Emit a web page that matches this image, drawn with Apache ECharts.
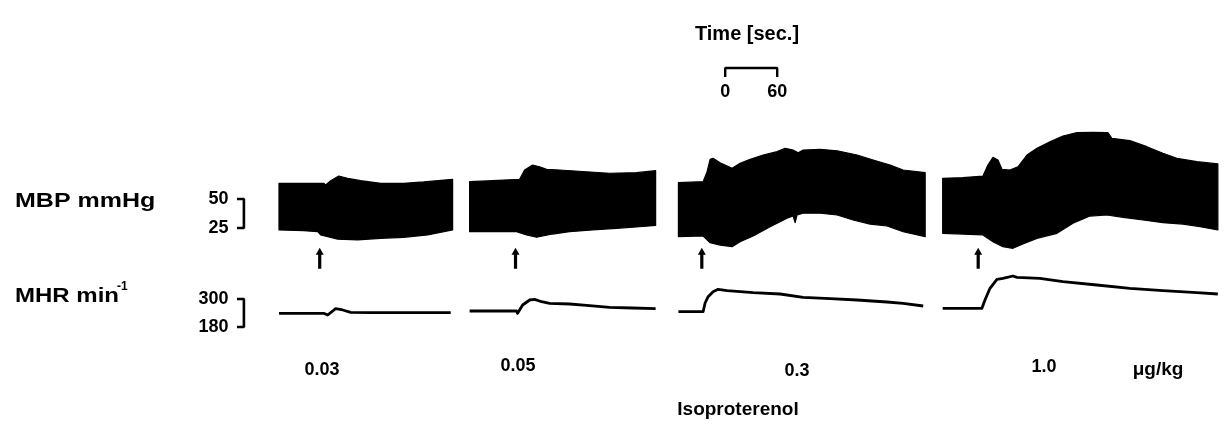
<!DOCTYPE html>
<html>
<head>
<meta charset="utf-8">
<script src="https://cdn.jsdelivr.net/npm/echarts@6/dist/echarts.min.js"></script>
<style>
  html, body { margin: 0; padding: 0; background: #fff; }
  #chart { width: 1226px; height: 437px; }
</style>
</head>
<body>
<div id="chart"></div>
<script>
// Isoproterenol doses (µg/kg), one per recorded trace
const doses = ['0.03', '0.05', '0.3', '1.0'];

// Mean blood pressure band: upper and lower envelope, [s from trace start, mmHg]
const mbpUpper1 = [[0, 63.5], [51.6, 63.5], [53.9, 62.1], [59.7, 65.8], [68.9, 69.8], [79.3, 67.8], [94.3, 65.8], [117.4, 63.5], [143.9, 63.5], [167, 64.7], [200.4, 67.0]];
const mbpLower1 = [[0, 23.3], [28.5, 22.7], [44.7, 21.8], [48.1, 19.0], [67.7, 15.3], [90.8, 14.7], [117.4, 16.1], [143.9, 17.0], [171.6, 19.0], [200.4, 23.3]];
const mbpUpper2 = [[0, 64.9], [26.5, 65.8], [57.7, 67.0], [63.5, 75.0], [72.7, 79.3], [80.8, 77.8], [88.9, 75.6], [103.9, 75.0], [135, 73.5], [161.6, 72.2], [192.7, 72.7], [214.7, 74.4]];
const mbpLower2 = [[0, 21.8], [54.2, 21.8], [65.8, 19.0], [77.3, 17.0], [95.8, 19.8], [115.4, 21.8], [142, 23.3], [169.7, 24.7], [196.2, 26.1], [214.7, 27.2]];
const mbpUpper3 = [[0, 64.1], [28.5, 64.9], [33.1, 73.5], [36.6, 84.2], [40, 85.1], [48.1, 81.3], [62, 76.5], [71.2, 80.8], [82.8, 84.2], [97.8, 87.9], [113.9, 90.8], [123.2, 93.7], [132.4, 92.2], [138.2, 89.9], [144, 92.2], [163.6, 92.8], [183.2, 91.6], [206.3, 87.9], [224.8, 83.6], [244.4, 79.3], [259.4, 75.0], [284.8, 72.7]];
const mbpLower3 = [[0, 17.5], [28.5, 18.1], [36.6, 12.3], [48.1, 10.3], [62, 8.9], [71.2, 13.2], [86.3, 18.1], [105.8, 26.1], [125.4, 33.4], [132.4, 35.3], [134.7, 29.6], [136.9, 36.2], [144, 37.7], [163.6, 37.7], [183.2, 36.2], [201.6, 31.9], [221.2, 28.4], [240.8, 26.7], [259.4, 21.8], [284.8, 17.5]];
const mbpUpper4 = [[0, 67.8], [23.4, 68.4], [46.5, 69.8], [52.2, 79.3], [58, 85.9], [63.8, 83.6], [68.4, 75.6], [77.6, 75.0], [86.9, 77.8], [97.3, 87.9], [108.8, 93.7], [123.8, 99.4], [138.8, 104.3], [155, 107.2], [173.4, 107.5], [190.7, 107.2], [195.3, 102.3], [216.1, 100.3], [235.7, 95.1], [254.2, 89.4], [270.3, 85.1], [293.4, 82.2], [317.6, 80.2]];
const mbpLower4 = [[0, 20.4], [23.4, 19.8], [46.5, 19.0], [58, 13.2], [69.5, 8.9], [81.1, 7.5], [92.6, 11.2], [108.8, 16.1], [131.9, 20.4], [150.4, 29.1], [170, 35.3], [189.6, 36.2], [208.1, 34.2], [231.2, 31.9], [254.2, 29.6], [277.3, 28.4], [297, 26.1], [317.6, 23.3]];

// Mean heart rate, [s from trace start, beats/min]
const mhr1 = [[0, 238.7], [51.6, 238.7], [56.2, 231.4], [65.4, 258.4], [73.5, 252.9], [82.8, 243.0], [105.8, 241.3], [198.2, 241.3]];
const mhr2 = [[0, 248.6], [54.2, 248.6], [55.4, 238.7], [61.2, 274.3], [69.3, 295.7], [75, 298.7], [83.1, 288.4], [92.3, 281.6], [115.4, 278.6], [135, 273.0], [161.6, 264.4], [188.1, 261.4], [214.7, 258.4]];
const mhr3 = [[0, 245.6], [28.5, 245.6], [30.8, 282.9], [34.3, 309.9], [40, 331.3], [45.8, 341.6], [56.2, 335.6], [86.3, 327.0], [117.4, 321.4], [144, 307.3], [175.1, 301.3], [206.3, 295.7], [240.8, 287.1], [259.4, 281.6], [282.5, 270.0]];
const mhr4 = [[0, 260.1], [45.3, 260.1], [48.8, 295.7], [54.6, 345.9], [62.6, 384.4], [69.5, 388.7], [81.1, 398.6], [85.7, 393.0], [112.2, 388.7], [138.8, 374.1], [178, 360.0], [216.1, 345.9], [254.2, 335.6], [293.4, 327.0], [317.6, 321.4]];

// Injection time within each trace (s)
const injectionTimes = [47, 53, 27, 41];

// Calibration bar tick labels
const mbpScaleTicks = [50, 25];
const mhrScaleTicks = [300, 180];
const timeScaleTicks = [0, 60];

// ---- layout ----
const traceStart = [0, 220, 461, 766];   // where each trace sits on the shared time axis (s)
const timeBarStart = 515;                 // left end of the time calibration bar (s)
const bracketX = [-48.5, -40.5];          // calibration bracket tick ends (s)
const arrowLevel = -1;                    // vertical placement of injection arrows (mmHg units)
const FONT = '"Liberation Sans", Arial, sans-serif';

const mbpUpper = [mbpUpper1, mbpUpper2, mbpUpper3, mbpUpper4];
const mbpLower = [mbpLower1, mbpLower2, mbpLower3, mbpLower4];
const mhr = [mhr1, mhr2, mhr3, mhr4];

const xAxisBase = { type: 'value', min: -322, max: 1093, show: false };

const chart = echarts.init(document.getElementById('chart'), null, { renderer: 'canvas' });

const series = [];

// Blood pressure band per trace, filled between the two envelopes
series.push({
  type: 'custom',
  name: 'MBP',
  xAxisIndex: 0,
  yAxisIndex: 0,
  clip: false,
  data: traceStart.map((s, i) => [s, i]),
  renderItem(params, api) {
    const i = params.dataIndex;
    const s = traceStart[i];
    const top = mbpUpper[i].map(([t, v]) => api.coord([s + t, v]));
    const bottom = mbpLower[i].slice().reverse().map(([t, v]) => api.coord([s + t, v]));
    return {
      type: 'polygon',
      shape: { points: top.concat(bottom) },
      style: { fill: '#000', stroke: '#000', lineWidth: 1.2, lineJoin: 'round' }
    };
  }
});

// Heart rate traces
mhr.forEach((d, i) => {
  series.push({
    type: 'line',
    name: 'MHR ' + doses[i],
    xAxisIndex: 1,
    yAxisIndex: 1,
    data: d.map(([t, v]) => [traceStart[i] + t, v]),
    showSymbol: false,
    silent: true,
    lineStyle: { color: '#000', width: 2.8, join: 'round' },
    clip: false
  });
});

// Injection arrows
series.push({
  type: 'scatter',
  xAxisIndex: 0,
  yAxisIndex: 0,
  data: injectionTimes.map((t, i) => [traceStart[i] + t, arrowLevel]),
  symbol: 'path://M4,0 L8,7 L5.6,7 L5.6,21 L2.4,21 L2.4,7 L0,7 Z',
  symbolSize: [8, 21],
  itemStyle: { color: '#000', opacity: 1 },
  silent: true,
  clip: false
});

// Calibration brackets: the bracket outline plus its two tick labels
const labelStyle = { color: '#000', fontFamily: FONT, fontWeight: 'bold', opacity: 1 };
function bracket(ticks, xAxisIndex, yAxisIndex) {
  return [{
    type: 'line',
    xAxisIndex, yAxisIndex,
    symbol: 'none',
    silent: true,
    clip: false,
    lineStyle: { color: '#000', width: 2.6 },
    data: [[bracketX[0], ticks[0]], [bracketX[1], ticks[0]], [bracketX[1], ticks[1]], [bracketX[0], ticks[1]]]
  }, {
    type: 'scatter',
    xAxisIndex, yAxisIndex,
    silent: true,
    clip: false,
    symbolSize: 1,
    itemStyle: { color: 'rgba(0,0,0,0)', opacity: 1 },
    label: { show: true, position: 'left', distance: 8, fontSize: 18, ...labelStyle, formatter: (p) => String(p.value[1]) },
    data: ticks.map((v) => [bracketX[0], v])
  }];
}
series.push(...bracket(mbpScaleTicks, 0, 0));
series.push(...bracket(mhrScaleTicks, 1, 1));

// Time calibration bar
const timeBarEnd = timeBarStart + (timeScaleTicks[1] - timeScaleTicks[0]);
series.push({
  type: 'line',
  xAxisIndex: 2,
  yAxisIndex: 2,
  symbol: 'none',
  silent: true,
  clip: false,
  lineStyle: { color: '#000', width: 2.4 },
  data: [[timeBarStart, 0], [timeBarStart, 1], [timeBarEnd, 1], [timeBarEnd, 0]]
}, {
  type: 'scatter',
  xAxisIndex: 2,
  yAxisIndex: 2,
  silent: true,
  clip: false,
  symbolSize: 1,
  itemStyle: { color: 'rgba(0,0,0,0)', opacity: 1 },
  label: { show: true, position: 'bottom', distance: 6, fontSize: 18, ...labelStyle, formatter: (p) => String(timeScaleTicks[p.dataIndex]) },
  data: [[timeBarStart, 0], [timeBarEnd, 0]]
});

const txt = (text, x, y, size, align, sx) => ({
  type: 'text', x, y, silent: true, scaleX: sx || 1,
  style: { text, font: 'bold ' + size + 'px ' + FONT, fill: '#000', align: align || 'center', verticalAlign: 'middle' }
});

const doseX = [322, 518, 797, 1044];
const doseY = [370, 366, 371, 367];

chart.setOption({
  animation: false,
  backgroundColor: '#fff',
  grid: [
    { left: 0, right: 0, top: 112, height: 174, containLabel: false, outerBoundsMode: 'none' },
    { left: 0, right: 0, top: 271, height: 84, containLabel: false, outerBoundsMode: 'none' },
    { left: 0, right: 0, top: 68, height: 9, containLabel: false, outerBoundsMode: 'none' }
  ],
  xAxis: [
    { ...xAxisBase, gridIndex: 0 },
    { ...xAxisBase, gridIndex: 1 },
    { ...xAxisBase, gridIndex: 2 }
  ],
  yAxis: [
    { type: 'value', gridIndex: 0, min: -25, max: 125, show: false },
    { type: 'value', gridIndex: 1, min: 60, max: 420, show: false },
    { type: 'value', gridIndex: 2, min: 0, max: 1, show: false }
  ],
  series,
  graphic: [
    txt('Time [sec.]', 747, 34, 20),
    txt('MBP mmHg', 15, 201, 20, 'left', 1.25),
    txt('MHR min', 15, 296, 20, 'left', 1.2),
    txt('-1', 117, 287, 12, 'left'),
    ...doses.map((d, i) => txt(d, doseX[i], doseY[i], 18)),
    txt('μg/kg', 1158, 370, 19),
    txt('Isoproterenol', 738, 410, 19)
  ]
});
</script>
</body>
</html>
